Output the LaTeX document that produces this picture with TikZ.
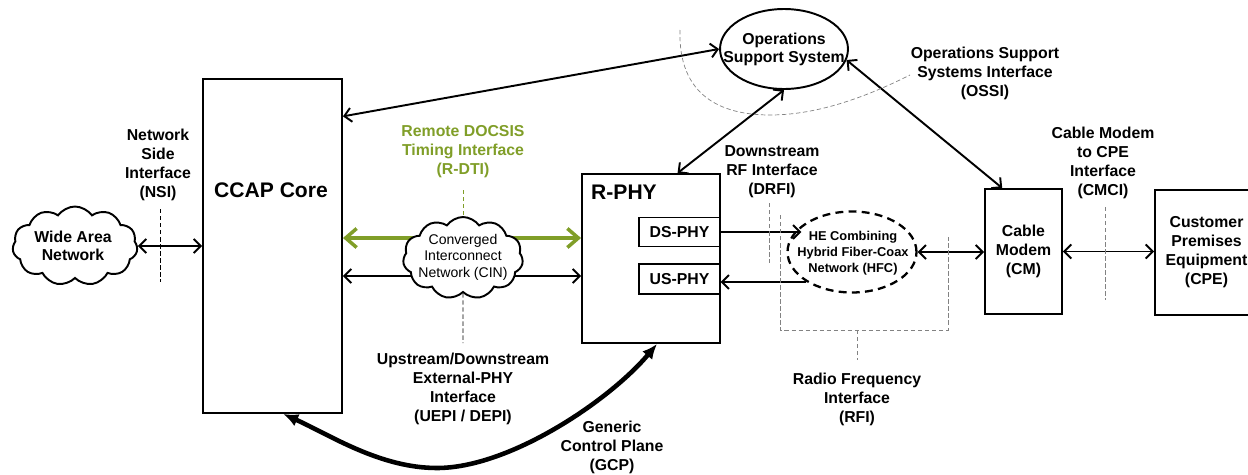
\documentclass[tikz,border=0pt]{standalone}
\usepackage{fontspec}
\setmainfont{Liberation Sans}
\usetikzlibrary{arrows.meta,shapes.geometric,shapes.symbols,calc}
\definecolor{dgreen}{RGB}{128,158,40}
\definecolor{dgray}{RGB}{130,130,130}
\begin{document}
\begin{tikzpicture}[x=0.02cm,y=-0.02cm,
  box/.style={draw,line width=1.1pt,inner sep=0pt},
  lbl/.style={font=\bfseries\fontsize{9}{10.8}\selectfont,align=center,inner sep=0pt},
  big/.style={font=\bfseries\fontsize{12}{14}\selectfont,inner sep=0pt},
  arr/.style={line width=1.1pt,{Straight Barb[length=1.4mm,width=2.8mm]}-{Straight Barb[length=1.4mm,width=2.8mm]}},
  sarr/.style={line width=1.1pt,-{Straight Barb[length=1.4mm,width=2.8mm]}},
  garr/.style={line width=2pt,draw=dgreen,{Straight Barb[length=2.2mm,width=3.8mm]}-{Straight Barb[length=2.2mm,width=3.8mm]}},
  gcp/.style={line width=2.6pt,{Latex[length=3mm,width=2.6mm]}-{Latex[length=3mm,width=2.6mm]}},
  ifc/.style={line width=0.5pt,dash pattern=on 2.5pt off 1.5pt},
  cloudbox/.style={cloud,draw,fill=white,line width=1.1pt,cloud puffs=11,cloud puff arc=110,inner sep=0pt}
]
\useasboundingbox (0,0) rectangle (1248,474);
\clip (0,0) rectangle (1248,474);

% main boxes
\node[box,minimum width=2.78cm,minimum height=6.68cm] (ccap) at (272.5,246) {};
\node[big] (ccapt) at (271,190) {CCAP Core};
\node[box,minimum width=2.76cm,minimum height=3.38cm] (rphy) at (651,258.5) {};
\node[big] (rphyt) at (624,192) {R-PHY};
\node[box,line width=0.6pt,minimum width=1.62cm,minimum height=0.58cm,font=\bfseries\fontsize{9}{10}\selectfont] (ds) at (679.5,232) {DS-PHY};
\node[box,line width=0.6pt,minimum width=1.62cm,minimum height=0.6cm,font=\bfseries\fontsize{9}{10}\selectfont] (us) at (679.5,279) {US-PHY};
\node[box,lbl,minimum width=1.54cm,minimum height=2.5cm] (cm) at (1023.5,251.5) {Cable\\Modem\\(CM)};
\node[box,lbl,minimum width=2.06cm,minimum height=2.5cm] (cpe) at (1206.5,252.5) {Customer\\Premises\\Equipment\\(CPE)};

% OSS ellipse
\node[draw,ellipse,line width=1.1pt,minimum width=2.56cm,minimum height=1.6cm,inner sep=0pt] (oss) at (784,49) {};
\node[font=\bfseries\fontsize{9}{10.2}\selectfont,align=center,inner sep=0pt] (osst) at (784,49) {Operations\\Support System};

% HFC ellipse
\node[draw,ellipse,line width=1.3pt,dash pattern=on 4.5pt off 3pt,minimum width=2.58cm,minimum height=1.62cm,inner sep=0pt] (hfc) at (852,252) {};
\node[font=\bfseries\fontsize{7.3}{9}\selectfont,align=center,inner sep=0pt] (hfct) at (853,253) {HE Combining\\Hybrid Fiber-Coax\\Network (HFC)};

% WAN cloud
\node[cloudbox,minimum width=2.5cm,minimum height=1.58cm] (wan) at (75,246) {};
\node[font=\bfseries\fontsize{9}{10.2}\selectfont,align=center,inner sep=0pt] (want) at (73,246) {Wide Area\\Network};

% CIN connectors (behind cloud)
\coordinate (gy) at (463,238);
\coordinate (by) at (463,276);
\draw[garr] (ccap.east |- gy) -- (rphy.west |- gy);
\draw[arr] (ccap.east |- by) -- (rphy.west |- by);
\node[cloudbox,minimum width=2.4cm,minimum height=1.64cm] (cin) at (463,258) {};
\node[font=\fontsize{8}{9.4}\selectfont,align=center,inner sep=0pt] (cint) at (463,257) {Converged\\Interconnect\\Network (CIN)};

% connectors
\draw[arr] (wan.east) -- (wan.east -| ccap.west);
\draw[arr] ($(ccap.north east)!0.114!(ccap.south east)$) -- (oss.west);
\draw[arr] ($(rphy.north west)!0.69!(rphy.north east)$) -- (oss.south);
\draw[arr] (oss.-10) -- ($(cm.north west)!0.23!(cm.north east)$);
\draw[sarr] (ds.east) -- ($(hfc.west |- ds.east)+(15,0)$);
\draw[sarr] ($(hfc.west |- us.east)+(20,3)$) -- ($(us.east)+(0,3)$);
\draw[arr] (hfc.east) -- (hfc.east -| cm.west);
\draw[arr] (cm.east) -- (cm.east -| cpe.west);

% GCP curve
\coordinate (gs) at ($(ccap.south west)!0.576!(ccap.south east)$);
\coordinate (ge) at ($(rphy.south west)!0.543!(rphy.south east)$);
\draw[gcp] (gs) .. controls (330,435) and (380,468) .. (437,468) .. controls (510,468) and (610,400) .. (ge);

% interface marker lines
\draw[ifc] (160,209) -- (160,282);
\draw[ifc,draw=dgreen] (463,190) -- (cin.north);
\draw[ifc] (cin.south) -- (463,343);
\draw[ifc,draw=dgray] (769,203) -- (769,263);
\draw[ifc,draw=dgray] (780,215) -- (780,330) -- (948,330) -- (948,237);
\draw[ifc,draw=dgray] (857,330) -- (857,360);
\draw[ifc,draw=dgray] (1105,207) -- (1105,300);
\draw[ifc,draw=dgray,line width=0.4pt] (680,30) .. controls (678,95) and (720,115) .. (770,115) .. controls (820,115) and (870,95) .. (910,75);

% labels
\node[lbl] (nsi) at (158,165) {Network\\Side\\Interface\\(NSI)};
\node[lbl,text=dgreen] (rdti) at (463,152) {Remote DOCSIS\\Timing Interface\\(R-DTI)};
\node[lbl] (uepi) at (463,388.5) {Upstream/Downstream\\External-PHY\\Interface\\(UEPI / DEPI)};
\node[lbl] (gcpl) at (612,447) {Generic\\Control Plane\\(GCP)};
\node[lbl] (drfi) at (772,172) {Downstream\\RF Interface\\(DRFI)};
\node[lbl] (rfi) at (857,399) {Radio Frequency\\Interface\\(RFI)};
\node[lbl] (ossi) at (985,73) {Operations Support\\Systems Interface\\(OSSI)};
\node[lbl] (cmci) at (1103,162.5) {Cable Modem\\to CPE\\Interface\\(CMCI)};
\end{tikzpicture}
\end{document}
